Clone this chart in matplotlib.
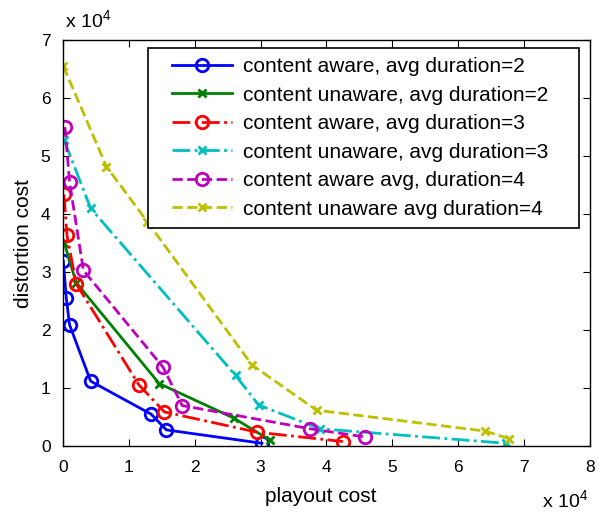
import numpy as np
import matplotlib
matplotlib.use("Agg")
import matplotlib.pyplot as plt
from matplotlib.ticker import FuncFormatter
from matplotlib.legend_handler import HandlerLine2D

plt.rcParams["font.family"] = ["Liberation Sans", "DejaVu Sans"]
plt.rcParams["mathtext.fontset"] = "custom"
plt.rcParams["mathtext.rm"] = "Liberation Sans"

# ==========================================================
# DATA (playout cost, distortion cost)
# ==========================================================

aware2_x = [50, 500, 1000, 4200, 13400, 15700, 30200]
aware2_y = [31900, 25500, 20900, 11200, 5500, 2800, 500]

unaware2_x = [200, 2000, 14600, 26000, 31500]
unaware2_y = [35000, 28200, 10800, 4800, 1000]

aware3_x = [150, 600, 2000, 11500, 15400, 29500, 42500]
aware3_y = [43400, 36400, 28000, 10600, 5900, 2400, 800]

unaware3_x = [150, 4200, 26200, 29700, 39000, 67200]
unaware3_y = [52800, 41000, 12200, 7100, 3000, 500]

aware4_x = [300, 1000, 3100, 15200, 18100, 37500, 45800]
aware4_y = [55000, 45500, 30300, 13600, 7000, 3000, 1600]

unaware4_x = [50, 6600, 12800, 28700, 38500, 64100, 67700]
unaware4_y = [65500, 48200, 38700, 14000, 6200, 2600, 1300]

labels = [
    "content aware, avg duration=2",
    "content unaware, avg duration=2",
    "content aware, avg duration=3",
    "content unaware, avg duration=3",
    "content aware avg, duration=4",
    "content unaware avg duration=4",
]


# legend handle with some empty room on its left side
class PadHandler(HandlerLine2D):
    def create_artists(self, legend, orig_handle, xdescent, ydescent,
                       width, height, fontsize, trans):
        pad = 0.75 * fontsize
        return super().create_artists(legend, orig_handle, xdescent - pad,
                                      ydescent, width - pad, height,
                                      fontsize, trans)


# ==========================================================
# PLOT
# ==========================================================

fig = plt.figure(figsize=(6.0, 5.14), dpi=100)
ax = fig.add_axes([0.105, 0.132, 0.878, 0.790])

ax.plot(aware2_x, aware2_y, color=(0, 0, 1), ls="-", lw=2,
        marker="o", ms=9, mfc="none", mew=2, label=labels[0])
ax.plot(unaware2_x, unaware2_y, color=(0, 0.5, 0), ls="-", lw=2,
        marker="x", ms=6, mew=2, label=labels[1])
ax.plot(aware3_x, aware3_y, color=(1, 0, 0), ls="-.", lw=2,
        marker="o", ms=9, mfc="none", mew=2, label=labels[2])
ax.plot(unaware3_x, unaware3_y, color=(0, 0.75, 0.75), ls="-.", lw=2,
        marker="x", ms=6, mew=2, label=labels[3])
ax.plot(aware4_x, aware4_y, color=(0.75, 0, 0.75), ls="--", lw=2,
        marker="o", ms=9, mfc="none", mew=2, label=labels[4])
ax.plot(unaware4_x, unaware4_y, color=(0.75, 0.75, 0), ls="--", lw=2,
        marker="x", ms=6, mew=2, label=labels[5])

ax.set_xlim(0, 80000)
ax.set_ylim(0, 70000)
ax.set_xticks(np.arange(0, 80001, 10000))
ax.set_yticks(np.arange(0, 70001, 10000))

fmt = FuncFormatter(lambda v, p: "%d" % round(v / 1e4))
ax.xaxis.set_major_formatter(fmt)
ax.yaxis.set_major_formatter(fmt)

ax.tick_params(direction="in", length=5, top=True, right=True,
               labelsize=12.5)
ax.tick_params(axis="x", pad=10)
ax.tick_params(axis="y", pad=9)

for s in ax.spines.values():
    s.set_linewidth(1)

ax.set_xlabel("playout cost", fontsize=15)
ax.set_ylabel("distortion cost", fontsize=15)
ax.xaxis.set_label_coords(0.49, -0.1)
ax.yaxis.set_label_coords(-0.056, 0.5)

ax.text(0.003, 1.02, r"x 10$^{4}$", transform=ax.transAxes, fontsize=14,
        ha="left", va="bottom")
ax.text(0.997, -0.163, r"x 10$^{4}$", transform=ax.transAxes, fontsize=14,
        ha="right", va="bottom")

leg = ax.legend(loc="upper left", bbox_to_anchor=(0.161, 0.0, 0.818, 0.980),
                mode="expand", borderaxespad=0,
                fontsize=15, frameon=True, fancybox=False,
                edgecolor="black", framealpha=1, labelspacing=0.455,
                handlelength=3.63, handletextpad=0.5, borderpad=0.43,
                handler_map={matplotlib.lines.Line2D: PadHandler()})
leg.get_frame().set_linewidth(1.2)

fig.savefig("out.png", dpi=100)
